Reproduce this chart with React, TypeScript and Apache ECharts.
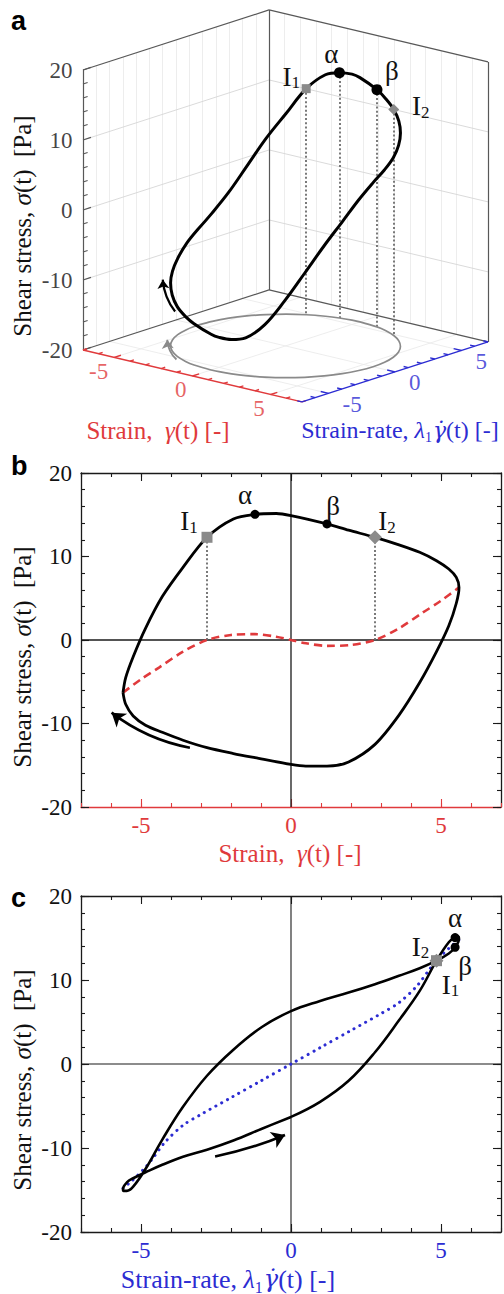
import React, { useEffect, useRef } from "react";
import * as echarts from "echarts";

// ---------------- data (one oscillation cycle) ----------------
const strain = [
  -5.6, -5.51, -5.26, -4.85, -4.29, -3.6, -2.8, -1.92, -1.2, -0.49, 0.0, 1.2, 1.92, 2.8, 3.6, 4.29, 4.85, 5.26, 5.51, 5.6,
  5.51, 5.26, 4.85, 4.29, 3.6, 2.8, 1.92, 1.2, 0.49, 0.0, -1.2, -1.92, -2.8, -3.6, -4.29, -4.85, -5.26, -5.51, -5.6,
];
const strainRate = [
  0.0, 0.97, 1.92, 2.8, 3.6, 4.29, 4.85, 5.26, 5.47, 5.58, 5.6, 5.47, 5.26, 4.85, 4.29, 3.6, 2.8, 1.92, 0.97, 0.0,
  -0.97, -1.92, -2.8, -3.6, -4.29, -4.85, -5.26, -5.47, -5.58, -5.6, -5.47, -5.26, -4.85, -4.29, -3.6, -2.8, -1.92, -0.97, 0.0,
];
const stress = [
  -6.3, -4.5, -2.0, 1.4, 5.2, 8.7, 12.3, 14.5, 15.05, 15.15, 14.9, 13.9, 13.15, 12.3, 11.4, 10.5, 9.5, 8.5, 7.5, 6.3,
  4.4, 1.7, -1.4, -5.1, -9.0, -12.5, -14.6, -15.1, -15.1, -14.9, -14.1, -13.6, -12.9, -12.0, -11.05, -10.2, -9.1, -7.7, -6.3,
];

// elastic stress vs strain (red dashed, panel b)
const elasticStrain = [-5.6, -5.0, -4.4, -3.6, -2.8, -2.0, -1.2, -0.5, 0, 0.5, 1.2, 2.0, 2.8, 3.6, 4.4, 5.0, 5.6];
const elasticStress = [-6.3, -4.7, -3.3, -1.4, 0, 0.6, 0.7, 0.4, 0, -0.4, -0.7, -0.6, 0, 1.4, 3.3, 4.7, 6.3];

// viscous stress vs strain-rate (blue dotted, panel c)
const viscousRate = [-5.6, -5.3, -4.85, -4.6, -4.2, -3.6, -3.0, -2.0, -1.0, 0, 1.0, 2.0, 3.0, 3.6, 4.2, 4.6, 4.85, 5.3, 5.6];
const viscousStress = [-14.8, -13.9, -12.3, -11.2, -9.3, -7.3, -6.0, -4.0, -2.0, 0, 2.0, 4.0, 6.0, 7.3, 9.3, 11.2, 12.3, 13.9, 14.8];

// marked points
const markerNames = ["I1", "α", "β", "I2"];
const markerStrain = [-2.8, -1.2, 1.2, 2.8];
const markerRate = [4.85, 5.47, 5.47, 4.85];
const markerStress = [12.3, 15.05, 13.9, 12.3];

// tick labels
const strainTickLabels = [-5, 0, 5];
const rateTickLabels = [-5, 0, 5];
const stressTickLabels = [-20, -10, 0, 10, 20];

// direction arrows (data space)
const arrowB = [[-3.37, -12.9], [-5.98, -8.7]];
const arrowC = [[-2.53, -11.0], [-0.2, -8.45]];
const arrowA = [[-4.0, -3.6, -15.0], [-5.3, -3.0, -11.5]];
const arrowAFloor = [[-2.47, -5.3], [-5.07, -2.93]];

// ---------------- layout / style ----------------
const W = 504;
const H = 1294;
const SERIF = "'Liberation Serif', 'Times New Roman', Times, serif";
const DOTSERIF = "'DejaVu Serif', 'Liberation Serif', serif";
const SANS = "'Liberation Sans', Arial, Helvetica, sans-serif";
const RED = "#e03a3c";
const BLUE = "#2c2cd2";
const GREY = "#8a8a8a";
const DOTC = "#6c6c6c";
const EDGE = "#585858";
const TICK_FS = 23;
const TITLE_FS = 25;

// 3D box of panel a (axis ranges + oblique projection)
const G0 = -7, G1 = 7, R0 = -7, R1 = 7, S0 = -20, S1 = 20;
const ORIGIN = [83, 350];
const VG = [15.64, 3.71];
const VR = [13.29, -4.29];
const VS = -7;
const proj = (g: number, r: number, s: number): number[] => [
  ORIGIN[0] + VG[0] * (g - G0) + VR[0] * (r - R0),
  ORIGIN[1] + VG[1] * (g - G0) + VR[1] * (r - R0) + VS * (s - S0),
];
const seg = (a: number[], b: number[]) => ({ coords: [a, b] });
const range = (a: number, b: number, step: number) => {
  const out: number[] = [];
  for (let v = a; v <= b + 1e-9; v += step) out.push(Math.round(v * 1000) / 1000);
  return out;
};

const markerSymbols = ["rect", "circle", "circle", "diamond"];
const markerColors = [GREY, "#000", "#000", GREY];
const labelOffsetA = [[-15, -12], [-8, -19], [15, -19], [27, -3]];
const labelOffsetB = [[-18, -16], [-10, -19], [6, -18], [12, -16]];
const labelOffsetC = [[14, 24], [0, -20], [10, 19], [-16, -14]];

const nameRich = (n: string) => (n.startsWith("I") ? `{m|I}{s|${n.slice(1)}}` : `{m|${n}}`);
const labelRich = {
  m: { fontFamily: SERIF, fontSize: 27, color: "#111" },
  s: { fontFamily: SERIF, fontSize: 17, color: "#111", padding: [12, 0, 0, 0] },
};

function markerSeries(xi: number, yi: number, pts: number[][], sizes: number[], offsets: number[][]) {
  return {
    type: "scatter",
    xAxisIndex: xi,
    yAxisIndex: yi,
    silent: true,
    z: 6,
    data: pts.map((p, i) => ({
      value: p,
      symbol: markerSymbols[i],
      symbolSize: sizes[i],
      itemStyle: { color: markerColors[i], opacity: 1 },
      label: {
        show: true,
        position: "inside",
        offset: offsets[i],
        formatter: nameRich(markerNames[i]),
        rich: labelRich,
      },
    })),
  };
}

function linesSeries(xi: number, yi: number, data: any[], color: string, width: number, extra: any = {}) {
  return {
    type: "lines",
    coordinateSystem: "cartesian2d",
    xAxisIndex: xi,
    yAxisIndex: yi,
    silent: true,
    data,
    symbol: extra.symbol || ["none", "none"],
    symbolSize: extra.symbolSize || 10,
    z: extra.z || 2,
    lineStyle: {
      color,
      width,
      opacity: 1,
      type: extra.type || "solid",
      curveness: extra.curveness || 0,
      cap: extra.cap || "butt",
    },
  };
}

function cartAxes(grid: number, xLine: string, xLabel: string) {
  const common: any = { type: "value", gridIndex: grid, splitLine: { show: false }, axisLabel: { show: false } };
  const xb = { ...common, min: G0, max: G1 };
  const yb = { ...common, min: S0, max: S1 };
  const ts = (c: string) => ({ color: c, width: 1.1 });
  const K = "#1a1a1a";
  const x = [
    {
      ...xb, position: "bottom", interval: 1,
      axisLine: { show: true, onZero: false, lineStyle: { color: xLine, width: 1.3 } },
      axisTick: { show: true, inside: true, length: 4, lineStyle: ts(xLine) },
      axisLabel: {
        show: true, color: xLabel, fontFamily: SERIF, fontSize: TICK_FS, margin: 7,
        formatter: (v: number) => (strainTickLabels.indexOf(v) >= 0 ? String(v) : ""),
      },
    },
    { ...xb, position: "bottom", axisLine: { show: false, onZero: false }, axisTick: { show: true, inside: true, length: 8, customValues: strainTickLabels, lineStyle: ts(xLine) } },
    { ...xb, position: "top", interval: 1, axisLine: { show: true, onZero: false, lineStyle: { color: K, width: 1.3 } }, axisTick: { show: true, inside: true, length: 4, lineStyle: ts(K) } },
    { ...xb, position: "top", axisLine: { show: false, onZero: false }, axisTick: { show: true, inside: true, length: 8, customValues: strainTickLabels, lineStyle: ts(K) } },
  ];
  const y = [
    {
      ...yb, position: "left", interval: 2,
      axisLine: { show: true, onZero: false, lineStyle: { color: K, width: 1.3 } },
      axisTick: { show: true, inside: true, length: 4, lineStyle: ts(K) },
      axisLabel: {
        show: true, color: "#111", fontFamily: SERIF, fontSize: TICK_FS, margin: 9,
        formatter: (v: number) => (stressTickLabels.indexOf(v) >= 0 ? String(v) : ""),
      },
    },
    { ...yb, position: "left", axisLine: { show: false, onZero: false }, axisTick: { show: true, inside: true, length: 8, customValues: stressTickLabels, lineStyle: ts(K) } },
    { ...yb, position: "right", interval: 2, axisLine: { show: true, onZero: false, lineStyle: { color: K, width: 1.3 } }, axisTick: { show: true, inside: true, length: 4, lineStyle: ts(K) } },
    { ...yb, position: "right", axisLine: { show: false, onZero: false }, axisTick: { show: true, inside: true, length: 8, customValues: stressTickLabels, lineStyle: ts(K) } },
  ];
  return { x, y };
}

function title(x: number, y: number, text: string, fill: string, fs = TITLE_FS, rotation = 0) {
  return {
    type: "text",
    x, y, rotation,
    silent: true,
    style: {
      text, fill, fontFamily: SERIF, fontSize: fs, align: "center", verticalAlign: "middle",
      rich: {
        i: { fontFamily: SERIF, fontSize: fs, fontStyle: "italic", fill },
        d: { fontFamily: DOTSERIF, fontSize: fs - 2, fontStyle: "italic", fill },
        s: { fontFamily: SERIF, fontSize: Math.round(fs * 0.6), fill, padding: [Math.round(fs * 0.6), 1, 0, 0] },
      },
    },
  };
}

function letter(x: number, y: number, t: string) {
  return {
    type: "text", x, y, silent: true,
    style: { text: t, fill: "#000", fontFamily: SANS, fontSize: 27, fontWeight: "bold", align: "left", verticalAlign: "middle" },
  };
}

function buildOption() {
  // ---------- panel a geometry ----------
  const wallFaint: any[] = [];
  range(R0 + 1, R1 - 1, 1).forEach((r) => wallFaint.push(seg(proj(G0, r, S0), proj(G0, r, S1))));
  range(G0 + 1, G1 - 1, 1).forEach((g) => wallFaint.push(seg(proj(g, R1, S0), proj(g, R1, S1))));
  const wallMid: any[] = [];
  [-10, 0, 10].forEach((s) => {
    wallMid.push(seg(proj(G0, R0, s), proj(G0, R1, s)));
    wallMid.push(seg(proj(G0, R1, s), proj(G1, R1, s)));
  });
  const floorGrid: any[] = [];
  strainTickLabels.forEach((g) => floorGrid.push(seg(proj(g, R0, S0), proj(g, R1, S0))));
  rateTickLabels.forEach((r) => floorGrid.push(seg(proj(G0, r, S0), proj(G1, r, S0))));

  const boxEdges = [
    seg(proj(G0, R0, S0), proj(G0, R0, S1)),
    seg(proj(G0, R1, S0), proj(G0, R1, S1)),
    seg(proj(G1, R1, S0), proj(G1, R1, S1)),
    seg(proj(G0, R0, S1), proj(G0, R1, S1)),
    seg(proj(G0, R1, S1), proj(G1, R1, S1)),
    seg(proj(G0, R0, S0), proj(G0, R1, S0)),
    seg(proj(G0, R1, S0), proj(G1, R1, S0)),
    ...range(S0, S1, 2).map((s) => seg(proj(G0, R0, s), proj(G0, R0 + (s % 10 === 0 ? 0.6 : 0.35), s))),
  ];
  const redAxis = [
    seg(proj(G0, R0, S0), proj(G1, R0, S0)),
    ...range(G0, G1, 1).map((g) => seg(proj(g, R0, S0), proj(g, R0 + (g % 5 === 0 ? 0.5 : 0.3), S0))),
  ];
  const blueAxis = [
    seg(proj(G1, R0, S0), proj(G1, R1, S0)),
    ...range(R0, R1, 1).map((r) => seg(proj(G1, r, S0), proj(G1 - (r % 5 === 0 ? 0.5 : 0.3), r, S0))),
  ];
  const floorLoop = strain.map((g, i) => proj(g, strainRate[i], S0));
  const loop3d = strain.map((g, i) => proj(g, strainRate[i], stress[i]));
  const drops3d = markerNames.map((_, i) =>
    seg(proj(markerStrain[i], markerRate[i], markerStress[i]), proj(markerStrain[i], markerRate[i], S0))
  );
  const markers3d = markerNames.map((_, i) => proj(markerStrain[i], markerRate[i], markerStress[i]));

  const aTickLabels = [
    ...stressTickLabels.map((s) => ({
      value: proj(G0, R0, s),
      label: { show: true, formatter: String(s), position: "left", distance: 10, color: "#111", fontFamily: SERIF, fontSize: TICK_FS },
    })),
    ...strainTickLabels.map((g) => ({
      value: proj(g, R0, S0),
      label: { show: true, formatter: String(g), position: "inside", align: "right", offset: [-6, 14], color: RED, fontFamily: SERIF, fontSize: TICK_FS },
    })),
    ...rateTickLabels.map((r) => ({
      value: proj(G1, r, S0),
      label: { show: true, formatter: String(r), position: "inside", align: "left", offset: [14, 11], color: BLUE, fontFamily: SERIF, fontSize: TICK_FS },
    })),
  ];

  const axB = cartAxes(1, RED, RED);
  const axC = cartAxes(2, "#1a1a1a", BLUE);

  const dropIdx = markerNames.map((n, i) => (n.startsWith("I") ? i : -1)).filter((i) => i >= 0);

  const series: any[] = [
    // ----- panel a -----
    linesSeries(0, 0, wallFaint, "#e8e8e8", 0.8),
    linesSeries(0, 0, floorGrid, "#e9e9e9", 0.8),
    linesSeries(0, 0, wallMid, "#d6d6d6", 0.9),
    linesSeries(0, 0, boxEdges, EDGE, 1.2),
    linesSeries(0, 0, redAxis, RED, 1.4),
    linesSeries(0, 0, blueAxis, BLUE, 1.4),
    {
      type: "line", xAxisIndex: 0, yAxisIndex: 0, data: floorLoop, showSymbol: false, symbol: "none",
      smooth: 0.3, clip: false, silent: true, z: 3, lineStyle: { color: GREY, width: 1.7 },
    },
    linesSeries(0, 0, [seg(proj(arrowAFloor[0][0], arrowAFloor[0][1], S0), proj(arrowAFloor[1][0], arrowAFloor[1][1], S0))], GREY, 1.8, {
      symbol: ["none", "arrow"], symbolSize: 9, curveness: 0.2, z: 3,
    }),
    linesSeries(0, 0, drops3d, DOTC, 1.8, { type: [2, 2.2], z: 3 }),
    {
      type: "line", xAxisIndex: 0, yAxisIndex: 0, data: loop3d, showSymbol: false, symbol: "none",
      smooth: 0.35, clip: false, silent: true, z: 4, lineStyle: { color: "#000", width: 3 },
    },
    linesSeries(0, 0, [seg(proj(arrowA[0][0], arrowA[0][1], arrowA[0][2]), proj(arrowA[1][0], arrowA[1][1], arrowA[1][2]))], "#000", 2.2, {
      symbol: ["none", "arrow"], symbolSize: 9, curveness: 0.15, z: 4,
    }),
    markerSeries(0, 0, markers3d, [9, 11, 11, 11], labelOffsetA),
    {
      type: "scatter", xAxisIndex: 0, yAxisIndex: 0, silent: true, symbolSize: 1,
      itemStyle: { color: "rgba(0,0,0,0)" }, data: aTickLabels, z: 5,
    },

    // ----- panel b -----
    {
      type: "line", xAxisIndex: 1, yAxisIndex: 1, data: [[G0, 0], [G1, 0]], showSymbol: false, symbol: "none",
      silent: true, z: 1, lineStyle: { color: "#1a1a1a", width: 1.3 },
    },
    {
      type: "line", xAxisIndex: 1, yAxisIndex: 1, data: [[0, S0], [0, S1]], showSymbol: false, symbol: "none",
      silent: true, z: 1, lineStyle: { color: "#1a1a1a", width: 1.3 },
    },
    linesSeries(1, 1, dropIdx.map((i) => seg([markerStrain[i], markerStress[i]], [markerStrain[i], 0])), DOTC, 1.8, { type: [2, 2.2], z: 2 }),
    {
      type: "line", xAxisIndex: 1, yAxisIndex: 1, data: elasticStrain.map((g, i) => [g, elasticStress[i]]),
      showSymbol: false, symbol: "none", smooth: 0.3, silent: true, z: 3,
      lineStyle: { color: RED, width: 2.6, type: [8, 5] },
    },
    {
      type: "line", xAxisIndex: 1, yAxisIndex: 1, data: strain.map((g, i) => [g, stress[i]]),
      showSymbol: false, symbol: "none", smooth: 0.3, silent: true, z: 4,
      lineStyle: { color: "#000", width: 2.8 },
    },
    linesSeries(1, 1, [seg(arrowB[0], arrowB[1])], "#000", 2.6, { symbol: ["none", "arrow"], symbolSize: 13, curveness: 0.12, z: 4 }),
    markerSeries(1, 1, markerNames.map((_, i) => [markerStrain[i], markerStress[i]]), [11, 9, 9, 14], labelOffsetB),

    // ----- panel c -----
    {
      type: "line", xAxisIndex: 5, yAxisIndex: 5, data: [[G0, 0], [G1, 0]], showSymbol: false, symbol: "none",
      silent: true, z: 1, lineStyle: { color: "#1a1a1a", width: 1.1 },
    },
    {
      type: "line", xAxisIndex: 5, yAxisIndex: 5, data: [[0, S0], [0, S1]], showSymbol: false, symbol: "none",
      silent: true, z: 1, lineStyle: { color: "#1a1a1a", width: 1.1 },
    },
    {
      type: "line", xAxisIndex: 5, yAxisIndex: 5, data: viscousRate.map((r, i) => [r, viscousStress[i]]),
      showSymbol: false, symbol: "none", smooth: 0.3, silent: true, z: 3,
      lineStyle: { color: BLUE, width: 3, type: [0.1, 6.5], cap: "round" },
    },
    {
      type: "line", xAxisIndex: 5, yAxisIndex: 5, data: strainRate.map((r, i) => [r, stress[i]]),
      showSymbol: false, symbol: "none", smooth: 0.4, silent: true, z: 4,
      lineStyle: { color: "#000", width: 2.6 },
    },
    linesSeries(5, 5, [seg(arrowC[0], arrowC[1])], "#000", 2.6, { symbol: ["none", "arrow"], symbolSize: 13, curveness: -0.05, z: 4 }),
    markerSeries(5, 5, markerNames.map((_, i) => [markerRate[i], markerStress[i]]), [11, 9, 9, 14], labelOffsetC),
  ];

  const yTitle = "Shear stress, {i|σ}(t)  [Pa]";
  const strainTitle = "Strain,  {i|γ}(t) [-]";
  const rateTitle = "Strain-rate, {i|λ}{s|1}{d|γ̇}(t) [-]";

  return {
    animation: false,
    backgroundColor: "#fff",
    grid: [
      { left: 0, top: 0, width: W, height: 460 },
      { left: 81, top: 473, width: 421, height: 334 },
      { left: 81, top: 896, width: 421, height: 336 },
    ],
    xAxis: [
      { type: "value", gridIndex: 0, min: 0, max: W, show: false },
      ...axB.x,
      ...axC.x,
    ],
    yAxis: [
      { type: "value", gridIndex: 0, min: 0, max: 460, inverse: true, show: false },
      ...axB.y,
      ...axC.y,
    ],
    series,
    graphic: [
      letter(11, 21, "a"),
      letter(11, 466, "b"),
      letter(11, 898, "c"),
      title(22, 226, yTitle, "#111", TITLE_FS, Math.PI / 2),
      title(22, 657, yTitle, "#111", TITLE_FS, Math.PI / 2),
      title(22, 1080, yTitle, "#111", TITLE_FS, Math.PI / 2),
      title(158, 430, strainTitle, RED),
      title(400, 430, rateTitle, BLUE, 24),
      title(290, 853, strainTitle, RED),
      title(228, 1279, rateTitle, BLUE, 26),
    ],
  };
}

export default function App() {
  const ref = useRef<HTMLDivElement>(null);
  useEffect(() => {
    document.body.style.margin = "0";
    const chart = echarts.init(ref.current as HTMLDivElement, undefined, { renderer: "svg", width: W, height: H });
    chart.setOption(buildOption() as any);
    return () => chart.dispose();
  }, []);
  return <div ref={ref} style={{ width: W, height: H, background: "#fff" }} />;
}
